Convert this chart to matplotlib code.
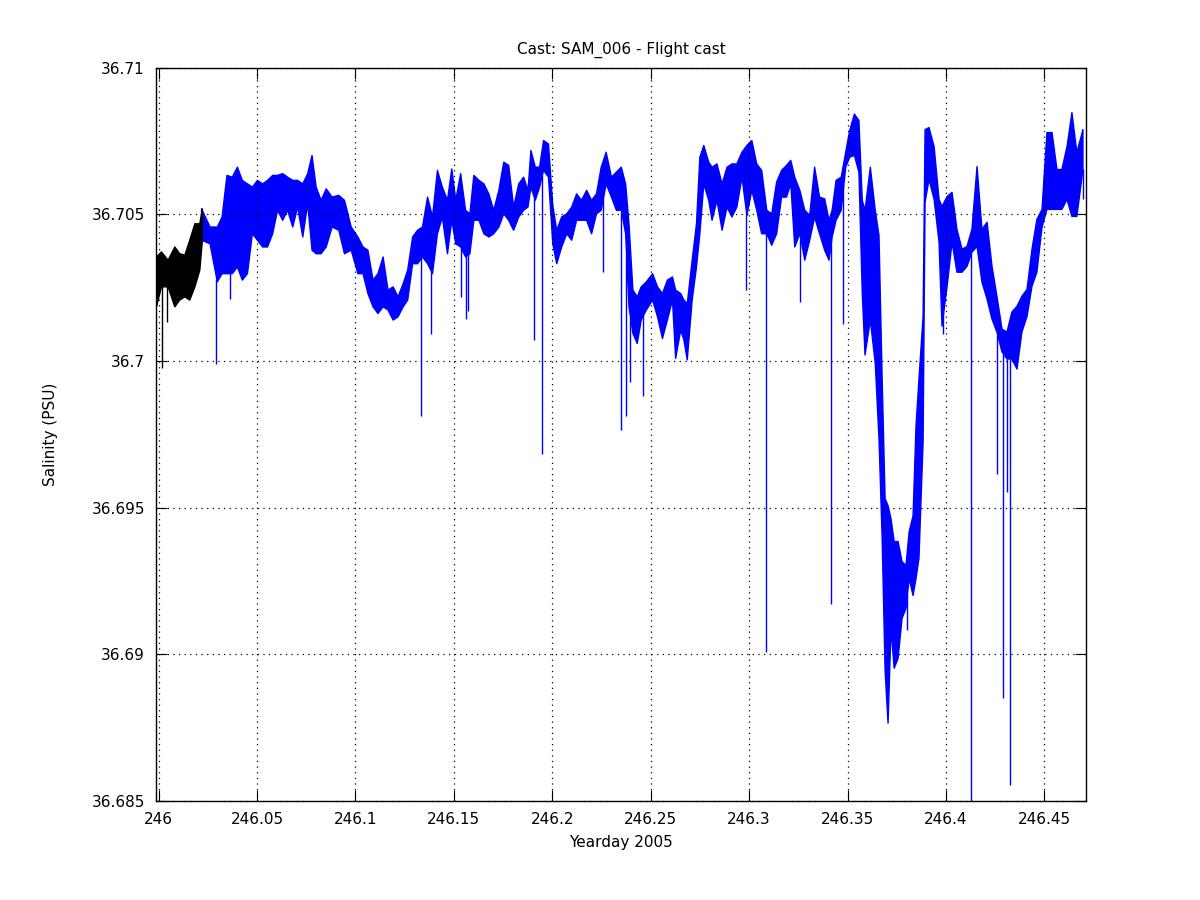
import numpy as np
import matplotlib
matplotlib.use("Agg")
from matplotlib import pyplot as plt

# salinity trace read off the picture as a band: upper / lower edge per sample
# first (black) stretch of the cast
black_x = [245.9987, 246.0012, 246.0046, 246.0080, 246.0105, 246.0131,
           246.0156, 246.0182, 246.0207, 246.0220]
black_hi = [36.70356, 36.70373, 36.70345, 36.70390, 36.70367, 36.70362,
            36.70413, 36.70469, 36.70469, 36.70520]
black_lo = [36.70186, 36.70254, 36.70254, 36.70186, 36.70209, 36.70220,
            36.70209, 36.70254, 36.70311, 36.70413]

# rest of the cast (blue)
blue_x = [246.0216, 246.0259, 246.0296, 246.0320, 246.0345, 246.0372, 246.0398,
          246.0423, 246.0449, 246.0474, 246.0500, 246.0526, 246.0551, 246.0577,
          246.0602, 246.0628, 246.0653, 246.0679, 246.0704, 246.0730, 246.0755,
          246.0777, 246.0798, 246.0823, 246.0849, 246.0879, 246.0913, 246.0942,
          246.0976, 246.1010, 246.1036, 246.1061, 246.1087, 246.1112, 246.1138,
          246.1163, 246.1189, 246.1214, 246.1240,
          246.1263, 246.1288, 246.1313, 246.1338, 246.1364, 246.1389, 246.1414,
          246.1439, 246.1465, 246.1487, 246.1507, 246.1532, 246.1557, 246.1579,
          246.1599, 246.1625, 246.1650, 246.1675, 246.1700, 246.1726, 246.1751,
          246.1776, 246.1801, 246.1827, 246.1852, 246.1874, 246.1889, 246.1911,
          246.1933, 246.1953, 246.1978, 246.2000, 246.2020, 246.2045, 246.2071,
          246.2096, 246.2121, 246.2146, 246.2172, 246.2197, 246.2222, 246.2246,
          246.2271, 246.2298, 246.2323, 246.2348, 246.2370, 246.2387, 246.2407,
          246.2429, 246.2449, 246.2475,
          246.2507, 246.2532, 246.2557, 246.2582, 246.2608, 246.2624, 246.2650,
          246.2666, 246.2683, 246.2708, 246.2730, 246.2747, 246.2767, 246.2792,
          246.2809, 246.2834, 246.2860, 246.2885, 246.2910, 246.2935, 246.2961,
          246.2986, 246.3011, 246.3036, 246.3061, 246.3087, 246.3112, 246.3137,
          246.3162, 246.3187, 246.3209, 246.3229, 246.3255, 246.3280, 246.3305,
          246.3330, 246.3355, 246.3381, 246.3403, 246.3419, 246.3439, 246.3465,
          246.3488, 246.3508, 246.3532, 246.3555, 246.3572, 246.3586, 246.3613,
          246.3638,
          246.3657, 246.3673, 246.3688, 246.3703, 246.3718, 246.3734, 246.3754,
          246.3774, 246.3794, 246.3810, 246.3830, 246.3845, 246.3860, 246.3881,
          246.3891, 246.3911, 246.3937, 246.3962, 246.3977, 246.4003, 246.4028,
          246.4053, 246.4079, 246.4104, 246.4129, 246.4155, 246.4180, 246.4206,
          246.4231, 246.4256, 246.4282, 246.4307, 246.4332, 246.4358, 246.4383,
          246.4409, 246.4434, 246.4459, 246.4485, 246.4510, 246.4536, 246.4561,
          246.4586, 246.4612, 246.4637, 246.4662, 246.4693]
blue_hi = [36.70520, 36.70458, 36.70458, 36.70492, 36.70634, 36.70628, 36.70662,
           36.70617, 36.70605, 36.70594, 36.70617, 36.70605, 36.70617, 36.70634,
           36.70634, 36.70640, 36.70628, 36.70617, 36.70617, 36.70605, 36.70640,
           36.70702, 36.70594, 36.70549, 36.70588, 36.70560, 36.70566, 36.70549,
           36.70458, 36.70424, 36.70390, 36.70379, 36.70277, 36.70299, 36.70356,
           36.70243, 36.70254, 36.70220, 36.70265,
           36.70311, 36.70424, 36.70447, 36.70458, 36.70560, 36.70492, 36.70651,
           36.70594, 36.70549, 36.70656, 36.70549, 36.70640, 36.70515, 36.70503,
           36.70634, 36.70617, 36.70605, 36.70571, 36.70515, 36.70583, 36.70679,
           36.70668, 36.70526, 36.70605, 36.70628, 36.70583, 36.70719, 36.70662,
           36.70662, 36.70753, 36.70741, 36.70532, 36.70447, 36.70492, 36.70503,
           36.70526, 36.70571, 36.70549, 36.70583, 36.70549, 36.70571, 36.70662,
           36.70713, 36.70628, 36.70645, 36.70662, 36.70605, 36.70469, 36.70243,
           36.70220, 36.70254, 36.70271,
           36.70299, 36.70254, 36.70231, 36.70277, 36.70288, 36.70243, 36.70231,
           36.70209, 36.70197, 36.70345, 36.70469, 36.70696, 36.70736, 36.70679,
           36.70662, 36.70673, 36.70605, 36.70662, 36.70673, 36.70673, 36.70713,
           36.70736, 36.70753, 36.70673, 36.70651, 36.70515, 36.70503, 36.70611,
           36.70651, 36.70668, 36.70685, 36.70628, 36.70583, 36.70515, 36.70498,
           36.70662, 36.70560, 36.70554, 36.70481, 36.70515, 36.70617, 36.70628,
           36.70713, 36.70787, 36.70843, 36.70821, 36.70549, 36.70515, 36.70662,
           36.70515,
           36.70429, 36.69940, 36.69532, 36.69508, 36.69464, 36.69386, 36.69386,
           36.69318, 36.69304, 36.69419, 36.69474, 36.69780, 36.69940, 36.70154,
           36.70790, 36.70797, 36.70732, 36.70552, 36.70528, 36.70562, 36.70576,
           36.70450, 36.70382, 36.70392, 36.70450, 36.70664, 36.70450, 36.70474,
           36.70324, 36.70222, 36.70110, 36.70100, 36.70168, 36.70188, 36.70222,
           36.70246, 36.70382, 36.70484, 36.70518, 36.70780, 36.70780, 36.70654,
           36.70654, 36.70732, 36.70848, 36.70712, 36.70790]
blue_lo = [36.70413, 36.70401, 36.70271, 36.70299, 36.70299, 36.70299, 36.70322,
           36.70277, 36.70299, 36.70435, 36.70413, 36.70390, 36.70390, 36.70435,
           36.70515, 36.70481, 36.70515, 36.70458, 36.70526, 36.70424, 36.70537,
           36.70379, 36.70367, 36.70367, 36.70390, 36.70458, 36.70447, 36.70367,
           36.70379, 36.70299, 36.70299, 36.70231, 36.70186, 36.70163, 36.70186,
           36.70175, 36.70141, 36.70152, 36.70186,
           36.70209, 36.70333, 36.70333, 36.70356, 36.70333, 36.70299, 36.70435,
           36.70492, 36.70367, 36.70481, 36.70401, 36.70390, 36.70356, 36.70367,
           36.70481, 36.70481, 36.70435, 36.70424, 36.70435, 36.70458, 36.70503,
           36.70481, 36.70447, 36.70492, 36.70515, 36.70526, 36.70594, 36.70549,
           36.70594, 36.70651, 36.70628, 36.70401, 36.70333, 36.70390, 36.70435,
           36.70413, 36.70481, 36.70481, 36.70481, 36.70435, 36.70503, 36.70515,
           36.70605, 36.70560, 36.70515, 36.70515, 36.70435, 36.70186, 36.70095,
           36.70061, 36.70141, 36.70175,
           36.70209, 36.70152, 36.70078, 36.70141, 36.70209, 36.70010, 36.70107,
           36.70073, 36.70005, 36.70209, 36.70322, 36.70435, 36.70605, 36.70549,
           36.70481, 36.70549, 36.70447, 36.70526, 36.70492, 36.70526, 36.70628,
           36.70498, 36.70583, 36.70515, 36.70435, 36.70435, 36.70396, 36.70435,
           36.70560, 36.70560, 36.70605, 36.70390, 36.70435, 36.70345, 36.70413,
           36.70492, 36.70435, 36.70379, 36.70345, 36.70424, 36.70481, 36.70515,
           36.70662, 36.70696, 36.70702, 36.70645, 36.70231, 36.70022, 36.70141,
           36.69993,
           36.69736, 36.69396, 36.68944, 36.68767, 36.69090, 36.68954, 36.68988,
           36.69124, 36.69158, 36.69260, 36.69202, 36.69260, 36.69328, 36.69726,
           36.70542, 36.70620, 36.70552, 36.70406, 36.70120, 36.70256, 36.70406,
           36.70304, 36.70304, 36.70324, 36.70372, 36.70392, 36.70270, 36.70212,
           36.70144, 36.70100, 36.70032, 36.70008, 36.70008, 36.69974, 36.70100,
           36.70154, 36.70256, 36.70304, 36.70457, 36.70518, 36.70518, 36.70518,
           36.70518, 36.70552, 36.70494, 36.70494, 36.70654]

# single-sample dropouts (bottom value of each spike)
black_spike_x = [246.0016, 246.0042]
black_spike_y = [36.69977, 36.70133]
spike_x = [246.0294, 246.0363, 246.1331, 246.1385, 246.1537, 246.1563, 246.1573,
           246.1908, 246.1947, 246.2259, 246.2350, 246.2375, 246.2396, 246.2460,
           246.2985, 246.3083, 246.3260, 246.3417, 246.3478, 246.3802, 246.3986,
           246.4127, 246.4261, 246.4291, 246.4312, 246.4327, 246.4698]
spike_y = [36.69991, 36.70212, 36.69813, 36.70090, 36.70219, 36.70144, 36.70171,
           36.70070, 36.69682, 36.70304, 36.69765, 36.69813, 36.69928, 36.69881,
           36.70240, 36.69007, 36.70202, 36.69170, 36.70127, 36.69083, 36.70093,
           36.68400, 36.69613, 36.68851, 36.69552, 36.68553, 36.70552]

xticks = [246, 246.05, 246.1, 246.15, 246.2, 246.25, 246.3, 246.35, 246.4, 246.45]
xtick_labels = ['246', '246.05', '246.1', '246.15', '246.2', '246.25', '246.3',
                '246.35', '246.4', '246.45']
yticks = [36.685, 36.69, 36.695, 36.7, 36.705, 36.71]
ytick_labels = ['36.685', '36.69', '36.695', '36.7', '36.705', '36.71']

plt.rcParams['font.family'] = ['DejaVu Sans']
fig = plt.figure(figsize=(12, 9), dpi=100, facecolor='white')
ax = fig.add_axes([0.13, 0.11, 0.775, 0.815])

ax.fill_between(blue_x, blue_lo, blue_hi, color='b', linewidth=1.0)
top = np.interp(spike_x, blue_x, blue_lo)
ax.vlines(spike_x, spike_y, top, color='b', linewidth=1.0)

ax.fill_between(black_x, black_lo, black_hi, color='k', linewidth=1.0)
btop = np.interp(black_spike_x, black_x, black_lo)
ax.vlines(black_spike_x, black_spike_y, btop, color='k', linewidth=1.0)

ax.set_xlim(245.9987, 246.4711)
ax.set_ylim(36.685, 36.71)
ax.set_xticks(xticks)
ax.set_xticklabels(xtick_labels)
ax.set_yticks(yticks)
ax.set_yticklabels(ytick_labels)
ax.tick_params(direction='in', length=8, top=True, right=True, labelsize=11, pad=8)
ax.grid(True, linestyle=(0, (1, 3.5)), color='k', linewidth=0.9)
for s in ax.spines.values():
    s.set_linewidth(1.0)

ax.set_title('Cast: SAM_006 - Flight cast', fontsize=11, pad=10)
ax.set_xlabel('Yearday 2005', fontsize=11, labelpad=6)
ax.set_ylabel('Salinity (PSU)', fontsize=11, labelpad=24)

fig.savefig('out.png', dpi=100, facecolor='white')
